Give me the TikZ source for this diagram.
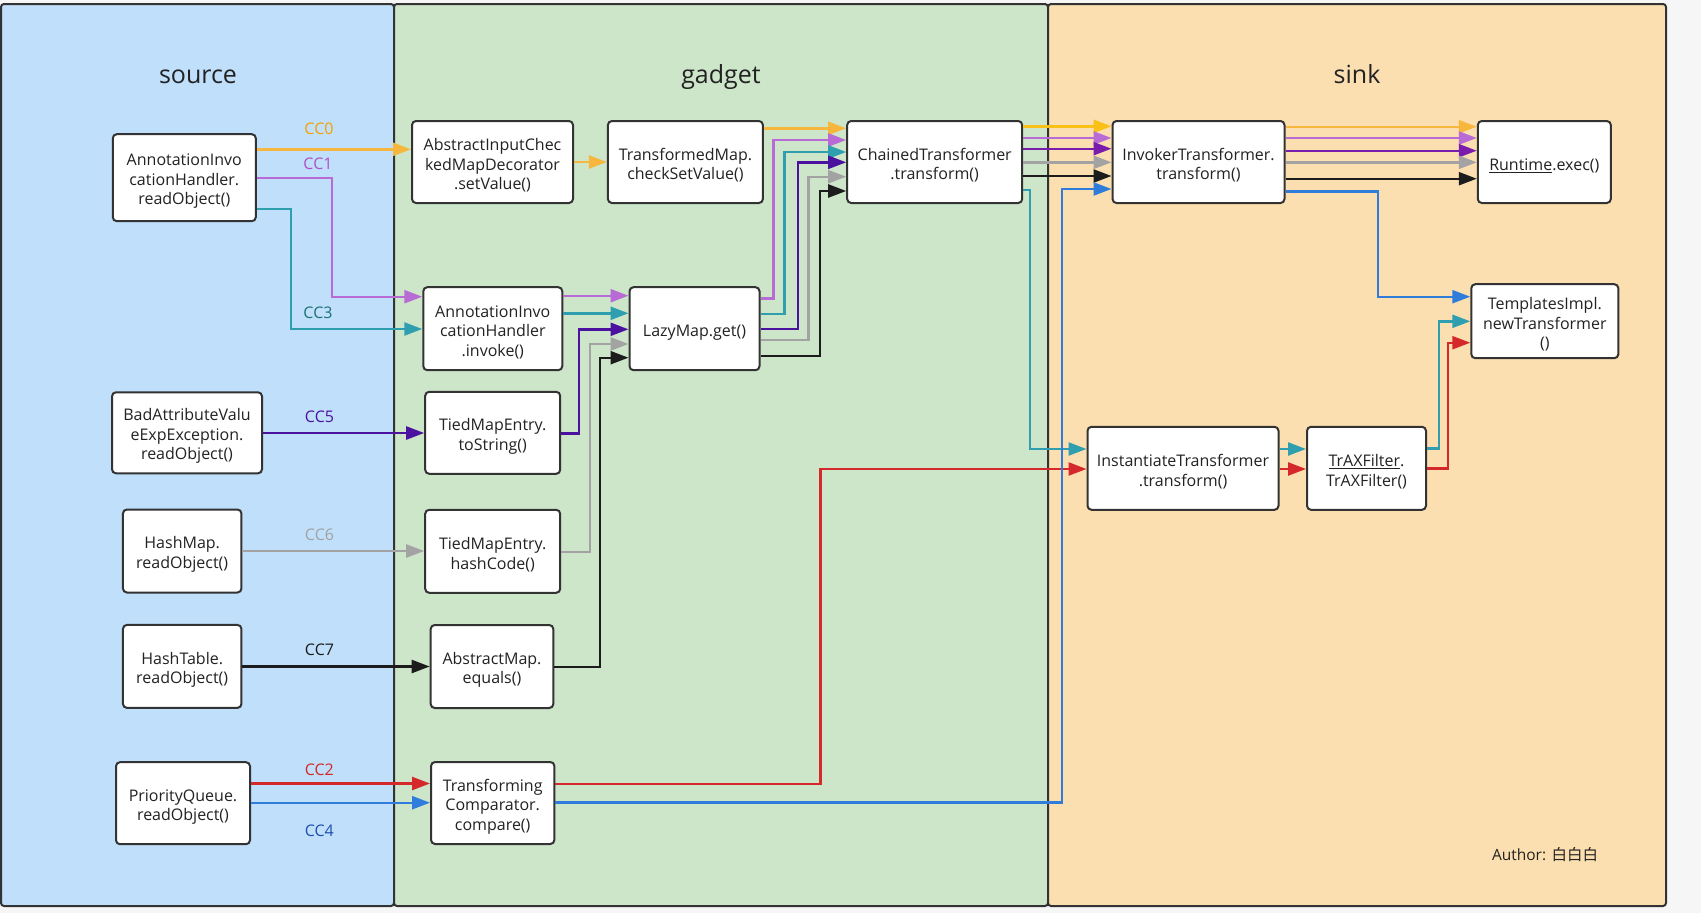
\documentclass[tikz,border=0pt]{standalone}
\usepackage{fontspec}
\setmainfont{Open Sans}
\newfontfamily\cjk{Noto Sans CJK SC}
\usetikzlibrary{arrows.meta}
\newcommand{\tr}{\rule{0pt}{19pt}}
\definecolor{bgout}{HTML}{F6F6F6}
\definecolor{srcfill}{HTML}{BFDFFA}
\definecolor{gadfill}{HTML}{CDE6CA}
\definecolor{sinkfill}{HTML}{FCDFB0}
\definecolor{edge}{HTML}{333333}
\definecolor{txt}{HTML}{222222}
\definecolor{cOrange}{HTML}{F7B73F}
\definecolor{cYellow}{HTML}{F9C017}
\definecolor{cLpurple}{HTML}{B86AD5}
\definecolor{cTeal}{HTML}{2F9FB0}
\definecolor{cIndigo}{HTML}{4B12A0}
\definecolor{cViolet}{HTML}{7A1CAC}
\definecolor{cGray}{HTML}{A3A3A3}
\definecolor{cBlack}{HTML}{1C1C1C}
\definecolor{cRed}{HTML}{D4282A}
\definecolor{cBlue}{HTML}{2F7CDB}
\definecolor{lOrange}{HTML}{F5A000}
\definecolor{lPurple}{HTML}{B050C8}
\definecolor{lTeal}{HTML}{1F6F78}
\definecolor{lBlue}{HTML}{1F4FB0}
\begin{document}
\begin{tikzpicture}[x=1pt,y=-1pt,
  panel/.style={draw=edge, line width=2pt, rounded corners=3pt},
  title/.style={font=\fontsize{25}{30}\selectfont, text=txt, anchor=base},
  box/.style={draw=edge, line width=2pt, rounded corners=4pt, fill=white, align=center,
    font=\fontsize{16}{19.5}\selectfont, text=txt, inner sep=0pt},
  conn/.style={line width=2.4pt, -{Triangle[length=18pt,width=13pt]}},
  lbl/.style={font=\fontsize{16}{19}\selectfont},
]
\useasboundingbox (0,0) rectangle (1701,913);
\fill[bgout] (0,0) rectangle (1701,913);
\draw[panel, fill=srcfill] (1,4) rectangle (394,906);
\draw[panel, fill=gadfill] (394,4) rectangle (1048,906);
\draw[panel, fill=sinkfill] (1048,4) rectangle (1666,906);
\node[title] (tsource) at (198,83) {source};
\node[title] (tgadget) at (721,83) {gadget};
\node[title] (tsink) at (1357,83) {sink};

% nodes
\node[box, minimum width=143pt, minimum height=87pt] (AIHread) at (184.3,177.7) {\tr AnnotationInvo\\cationHandler.\\readObject()};
\node[box, minimum width=161pt, minimum height=82pt] (AICMD) at (492.5,162) {\tr AbstractInputChec\\kedMapDecorator\\.setValue()};
\node[box, minimum width=155pt, minimum height=82pt] (TM) at (685.4,162) {\tr TransformedMap.\\checkSetValue()};
\node[box, minimum width=175pt, minimum height=82pt] (Chained) at (934.7,162) {\tr ChainedTransformer\\.transform()};
\node[box, minimum width=172pt, minimum height=82pt] (Invoker) at (1198.5,162) {\tr InvokerTransformer.\\transform()};
\node[box, minimum width=133pt, minimum height=82pt] (Runtime) at (1544.3,162) {\tr\underline{Runtime}.exec()};
\node[box, minimum width=139pt, minimum height=83pt] (AIHinv) at (492.8,328.7) {\tr AnnotationInvo\\cationHandler\\.invoke()};
\node[box, minimum width=130pt, minimum height=83pt] (LazyMap) at (694.5,328.7) {\tr LazyMap.get()};
\node[box, minimum width=147pt, minimum height=74pt] (Templates) at (1544.8,321.2) {\tr TemplatesImpl.\\newTransformer\\()};
\node[box, minimum width=150pt, minimum height=81pt] (BadAttr) at (187,432.8) {\tr BadAttributeValu\\eExpException.\\readObject()};
\node[box, minimum width=135pt, minimum height=82pt] (TiedToStr) at (492.7,432.8) {\tr TiedMapEntry.\\toString()};
\node[box, minimum width=191pt, minimum height=83pt] (Instantiate) at (1183,468.3) {\tr InstantiateTransformer\\.transform()};
\node[box, minimum width=119pt, minimum height=83pt] (TrAX) at (1366.5,468.3) {\tr\underline{TrAXFilter}.\\TrAXFilter()};
\node[box, minimum width=118.5pt, minimum height=83pt] (HashMap) at (182.2,551) {\tr HashMap.\\readObject()};
\node[box, minimum width=135pt, minimum height=83pt] (TiedHash) at (492.7,551.3) {\tr TiedMapEntry.\\hashCode()};
\node[box, minimum width=118.5pt, minimum height=83pt] (HashTable) at (182.2,666.4) {\tr HashTable.\\readObject()};
\node[box, minimum width=122.6pt, minimum height=83pt] (AbsMap) at (492,666.5) {\tr AbstractMap.\\equals()};
\node[box, minimum width=134pt, minimum height=82pt] (PQ) at (183,803.2) {\tr PriorityQueue.\\readObject()};
\node[box, minimum width=123.3pt, minimum height=82pt] (TC) at (492.7,803) {\tr Transforming\\Comparator.\\compare()};

% labels
\node[lbl, text=lOrange] (lcc0) at (319,129) {CC0};
\node[lbl, text=lPurple] (lcc1) at (318,164) {CC1};
\node[lbl, text=lTeal] (lcc3) at (318,313) {CC3};
\node[lbl, text=cIndigo] (lcc5) at (319.5,416.7) {CC5};
\node[lbl, text=cGray] (lcc6) at (319.5,535) {CC6};
\node[lbl, text=cBlack] (lcc7) at (319.5,649.6) {CC7};
\node[lbl, text=cRed] (lcc2) at (319.3,770) {CC2};
\node[lbl, text=lBlue] (lcc4) at (319.3,830.7) {CC4};
\node[font=\fontsize{15.5}{19}\selectfont, text=txt] (author) at (1545,855) {Author: {\cjk 白白白}};

% CC0
\draw[conn, cOrange] (AIHread.east|-0,149.3) -- (AICMD.west|-0,149.3);
\draw[conn, cOrange] (AICMD.east|-0,162) -- (TM.west|-0,162);
\draw[conn, cOrange] (TM.east|-0,128.3) -- (Chained.west|-0,128.3);
\draw[conn, cYellow] (Chained.east|-0,126.3) -- (Invoker.west|-0,126.3);
\draw[conn, cOrange] (Invoker.east|-0,126.7) -- (Runtime.west|-0,126.7);
% CC1
\draw[conn, cLpurple] (AIHread.east|-0,178) -| (332,296.7) -- (AIHinv.west|-0,296.7);
\draw[conn, cLpurple] (AIHinv.east|-0,295.7) -- (LazyMap.west|-0,295.7);
\draw[conn, cLpurple] (LazyMap.east|-0,298.3) -| (773.3,140) -- (Chained.west|-0,140);
\draw[conn, cLpurple] (Chained.east|-0,138) -- (Invoker.west|-0,138);
\draw[conn, cLpurple] (Invoker.east|-0,138) -- (Runtime.west|-0,138);
% CC3
\draw[conn, cTeal] (AIHread.east|-0,209) -| (290.7,329) -- (AIHinv.west|-0,329);
\draw[conn, cTeal] (AIHinv.east|-0,313.3) -- (LazyMap.west|-0,313.3);
\draw[conn, cTeal] (LazyMap.east|-0,314) -| (784.3,152) -- (Chained.west|-0,152);
\draw[conn, cTeal] (Chained.east|-0,190) -| (1030,449) -- (Instantiate.west|-0,449);
\draw[conn, cTeal] (Instantiate.east|-0,449) -- (TrAX.west|-0,449);
\draw[conn, cTeal] (TrAX.east|-0,448.3) -| (1439,321.3) -- (Templates.west|-0,321.3);
% CC5
\draw[conn, cIndigo] (BadAttr.east|-0,433) -- (TiedToStr.west|-0,433);
\draw[conn, cIndigo] (TiedToStr.east|-0,433.3) -| (578.7,329.3) -- (LazyMap.west|-0,329.3);
\draw[conn, cIndigo] (LazyMap.east|-0,329) -| (797.7,162.3) -- (Chained.west|-0,162.3);
\draw[conn, cViolet] (Chained.east|-0,148.7) -- (Invoker.west|-0,148.7);
\draw[conn, cViolet] (Invoker.east|-0,150.7) -- (Runtime.west|-0,150.7);
% CC6
\draw[conn, cGray] (HashMap.east|-0,551) -- (TiedHash.west|-0,551);
\draw[conn, cGray] (TiedHash.east|-0,551.7) -| (590,344) -- (LazyMap.west|-0,344);
\draw[conn, cGray] (LazyMap.east|-0,340) -| (808.3,176.7) -- (Chained.west|-0,176.7);
\draw[conn, cGray] (Chained.east|-0,162.3) -- (Invoker.west|-0,162.3);
\draw[conn, cGray] (Invoker.east|-0,162.3) -- (Runtime.west|-0,162.3);
% CC7
\draw[conn, cBlack] (HashTable.east|-0,666.5) -- (AbsMap.west|-0,666.5);
\draw[conn, cBlack] (AbsMap.east|-0,666.7) -| (600,357.7) -- (LazyMap.west|-0,357.7);
\draw[conn, cBlack] (LazyMap.east|-0,355.7) -| (820,191) -- (Chained.west|-0,191);
\draw[conn, cBlack] (Chained.east|-0,176) -- (Invoker.west|-0,176);
\draw[conn, cBlack] (Invoker.east|-0,178.7) -- (Runtime.west|-0,178.7);
% CC2
\draw[conn, cRed] (PQ.east|-0,783.5) -- (TC.west|-0,783.5);
\draw[conn, cRed] (TC.east|-0,784) -| (820.6,469) -- (Instantiate.west|-0,469);
\draw[conn, cRed] (Instantiate.east|-0,469) -- (TrAX.west|-0,469);
\draw[conn, cRed] (TrAX.east|-0,468.3) -| (1448,342.7) -- (Templates.west|-0,342.7);
% CC4
\draw[conn, cBlue] (PQ.east|-0,802.7) -- (TC.west|-0,802.7);
\draw[conn, cBlue] (TC.east|-0,802.5) -| (1062,189) -- (Invoker.west|-0,189);
\draw[conn, cBlue] (Invoker.east|-0,191.3) -| (1377.7,296.7) -- (Templates.west|-0,296.7);
\end{tikzpicture}
\end{document}
